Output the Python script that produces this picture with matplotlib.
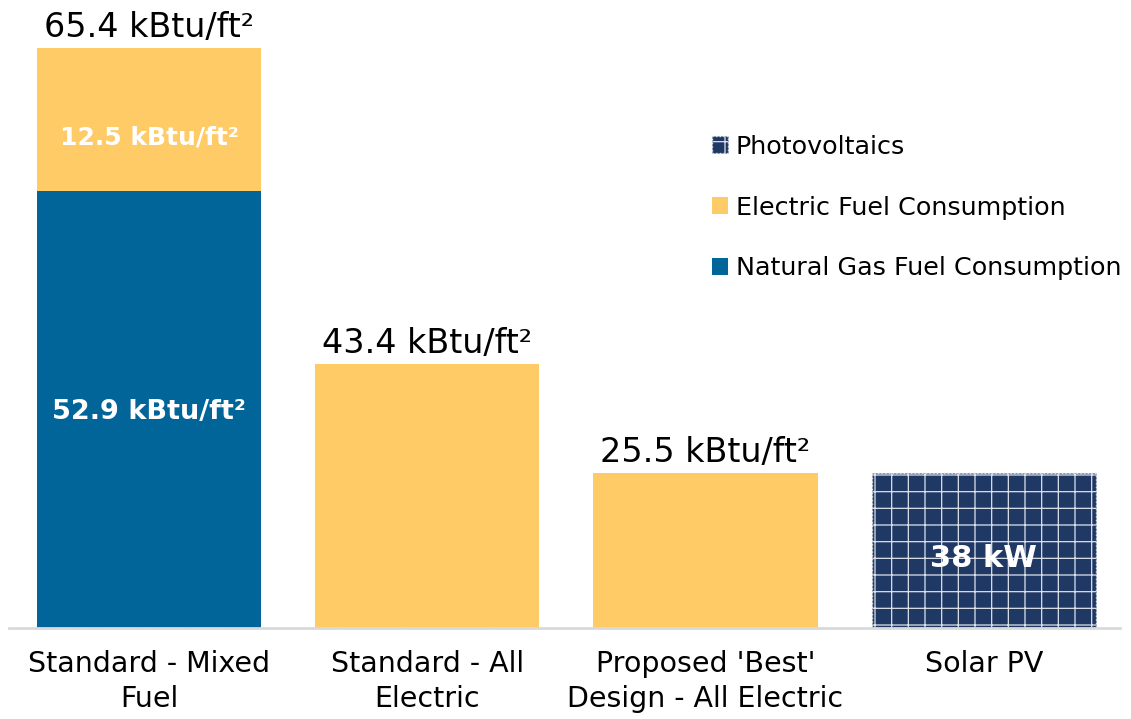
import matplotlib.pyplot as plt
from matplotlib.patches import Patch

# categories and the values printed on the chart
categories = ["Standard - Mixed\nFuel", "Standard - All\nElectric",
              "Proposed 'Best'\nDesign - All Electric", "Solar PV"]
total_labels = ["65.4 kBtu/ft\u00b2", "43.4 kBtu/ft\u00b2", "25.5 kBtu/ft\u00b2", ""]
gas_labels = ["52.9 kBtu/ft\u00b2", "", "", ""]
elec_labels = ["12.5 kBtu/ft\u00b2", "", "", ""]
pv_labels = ["", "", "", "38 kW"]

# bar heights as drawn in the picture (the original is not to scale)
gas_height = [71.9, 0, 0, 0]
elec_height = [23.5, 43.4, 25.5, 0]
pv_height = [0, 0, 0, 25.5]

gas_color = "#026599"
elec_color = "#FFCB66"
pv_color = "#1F3864"

plt.rcParams['font.family'] = ['DejaVu Sans']
plt.rcParams['hatch.color'] = '#DDE2EA'
plt.rcParams['hatch.linewidth'] = 0.9

fig = plt.figure(figsize=(11.31, 7.19), dpi=100)
ax = fig.add_axes([9 / 1131, 91 / 719, 1111 / 1131, 628 / 719])

x = list(range(len(categories)))
w = 0.806
ax.bar(x, gas_height, w, color=gas_color)
ax.bar(x, elec_height, w, bottom=gas_height, color=elec_color)
ax.bar(x, pv_height, w, facecolor=pv_color, hatch='+', edgecolor='#DDE2EA',
       linewidth=1, linestyle=':')

ax.set_xlim(-0.504, 3.49)
ax.set_ylim(0, 628 / 6.08)

tops = [g + e + p for g, e, p in zip(gas_height, elec_height, pv_height)]
for i in x:
    if total_labels[i]:
        ax.annotate(total_labels[i], (i, tops[i]), xytext=(0, 3),
                    textcoords='offset points', ha='center', va='bottom',
                    fontsize=24, color='black')
    if gas_labels[i]:
        ax.text(i, gas_height[i] * 0.494, gas_labels[i], ha='center', va='center',
                fontsize=19.5, fontweight='bold', color='white')
    if elec_labels[i]:
        ax.text(i, gas_height[i] + elec_height[i] * 0.37, elec_labels[i],
                ha='center', va='center', fontsize=18, fontweight='bold',
                color='white')
    if pv_labels[i]:
        ax.text(i, pv_height[i] * 0.45, pv_labels[i], ha='center', va='center',
                fontsize=22, fontweight='bold', color='white')

ax.set_xticks(x)
ax.set_xticklabels(categories, fontsize=20.5, linespacing=1.3)
ax.tick_params(axis='x', length=0, pad=16)
ax.set_yticks([])
for s in ['top', 'right', 'left']:
    ax.spines[s].set_visible(False)
ax.spines['bottom'].set_color('#D9D9D9')
ax.spines['bottom'].set_linewidth(2)

handles = [Patch(facecolor=pv_color, hatch='+', edgecolor='#DDE2EA', linestyle=':',
                 label='Photovoltaics'),
           Patch(facecolor=elec_color, label='Electric Fuel Consumption'),
           Patch(facecolor=gas_color, label='Natural Gas Fuel Consumption')]
fig.legend(handles=handles, loc='upper left', bbox_to_anchor=(699 / 1131, 1 - 122 / 719),
           frameon=False, fontsize=18.3, handlelength=0.65, handleheight=0.65,
           handletextpad=0.3, labelspacing=1.45, borderpad=0)

fig.savefig('out.png', dpi=100)
